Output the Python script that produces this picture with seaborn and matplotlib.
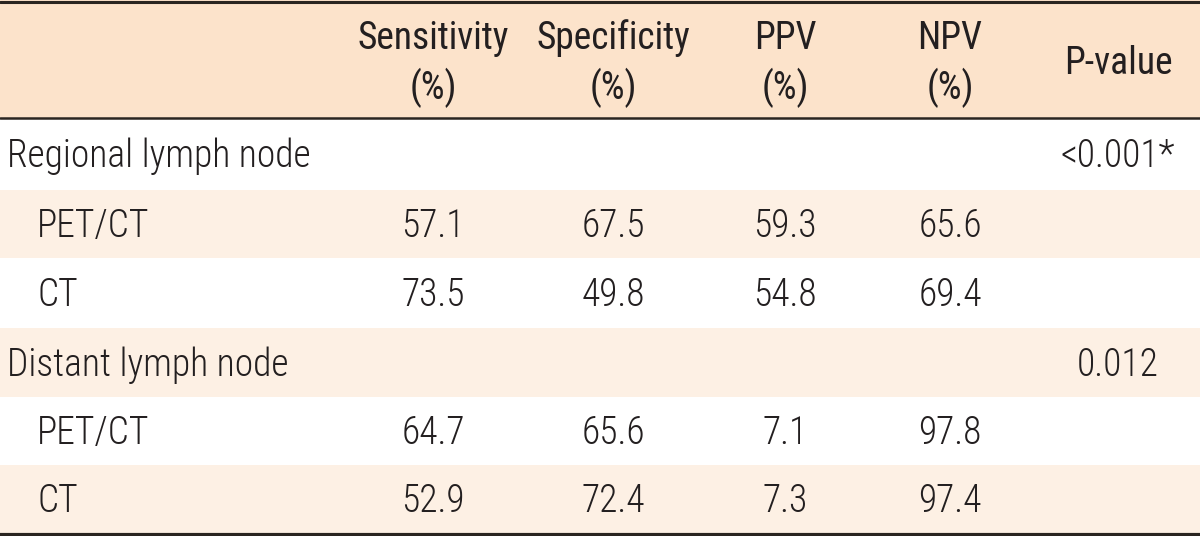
import matplotlib
matplotlib.use('Agg')
import matplotlib.pyplot as plt
from matplotlib import font_manager
import seaborn as sns

# table content
headers = ['Sensitivity\n(%)', 'Specificity\n(%)', 'PPV\n(%)', 'NPV\n(%)', 'P-value']
groups = ['Regional lymph node', 'Distant lymph node']
p_values = ['<0.001*', '0.012']
modalities = ['PET/CT', 'CT']
sensitivity = [57.1, 73.5, 64.7, 52.9]
specificity = [67.5, 49.8, 65.6, 72.4]
ppv = [59.3, 54.8, 7.1, 7.3]
npv = [65.6, 69.4, 97.8, 97.4]

sns.set_theme(style='white')
plt.rcParams['font.family'] = ['DejaVu Sans']

# look for a narrow font, the original uses a condensed face
cands = [f for f in font_manager.fontManager.ttflist
         if 'Narrow' in f.fname or 'Condensed' in f.fname or 'Narrow' in f.name or 'Condensed' in f.name]
cands = [f for f in cands if 'Italic' not in f.fname and 'Oblique' not in f.fname]

def pick(weight_word):
    for f in cands:
        if weight_word in f.fname and 'Liberation' in f.fname:
            return f.fname
    for f in cands:
        if weight_word in f.fname and 'Roboto' in f.fname:
            return f.fname
    for f in cands:
        if weight_word in f.fname:
            return f.fname
    return None

fs = 27
reg = pick('Regular') or (cands[0].fname if cands else None)
light = pick('Light') or reg
if reg:
    head_font = font_manager.FontProperties(fname=reg, size=fs)
    body_font = font_manager.FontProperties(fname=light, size=fs)
else:
    head_font = font_manager.FontProperties(family='DejaVu Sans', stretch='condensed', size=fs - 3)
    body_font = head_font

W, H = 1200, 536
fig = plt.figure(figsize=(W / 100, H / 100), dpi=100)
ax = fig.add_axes([0, 0, 1, 1])
ax.set_xlim(0, W)
ax.set_ylim(H, 0)
ax.axis('off')

txt_color = '#231f20'
line_color = '#2a2521'
head_fill = '#fce3cb'
alt_fill = '#fdf0e4'

col_x = [433, 613, 785, 950, 1118]
head_h = 118
row_edges = [118, 190, 258, 328, 397, 465, 533]

# background
ax.axhspan(0, head_h, color=head_fill, lw=0)
for i in range(6):
    if i % 2 == 1:
        ax.axhspan(row_edges[i], row_edges[i + 1], color=alt_fill, lw=0)

# rules
ax.axhline(1.5, color=line_color, lw=2.2)
ax.axhline(head_h, color=line_color, lw=1.8)
ax.axhline(534.5, color=line_color, lw=3)

def put(x, y, s, ha='center', fp=body_font):
    ax.text(x, y, s, ha=ha, va='baseline', fontproperties=fp, color=txt_color)

# header
for x, h in zip(col_x, headers):
    parts = h.split('\n')
    if len(parts) == 2:
        put(x, 49, parts[0], fp=head_font)
        put(x, 99, parts[1], fp=head_font)
    else:
        put(x, 74, parts[0], fp=head_font)

# body
k = 0
r = 0
for g, pv in zip(groups, p_values):
    yb = (row_edges[r] + row_edges[r + 1]) / 2 + 13
    put(7, yb, g, ha='left')
    put(col_x[4], yb, pv)
    r += 1
    for m in modalities:
        yb = (row_edges[r] + row_edges[r + 1]) / 2 + 13
        put(37, yb, m, ha='left')
        vals = [sensitivity[k], specificity[k], ppv[k], npv[k]]
        for x, v in zip(col_x[:4], vals):
            put(x, yb, f'{v:.1f}')
        k += 1
        r += 1

plt.savefig('out.png', dpi=100)
